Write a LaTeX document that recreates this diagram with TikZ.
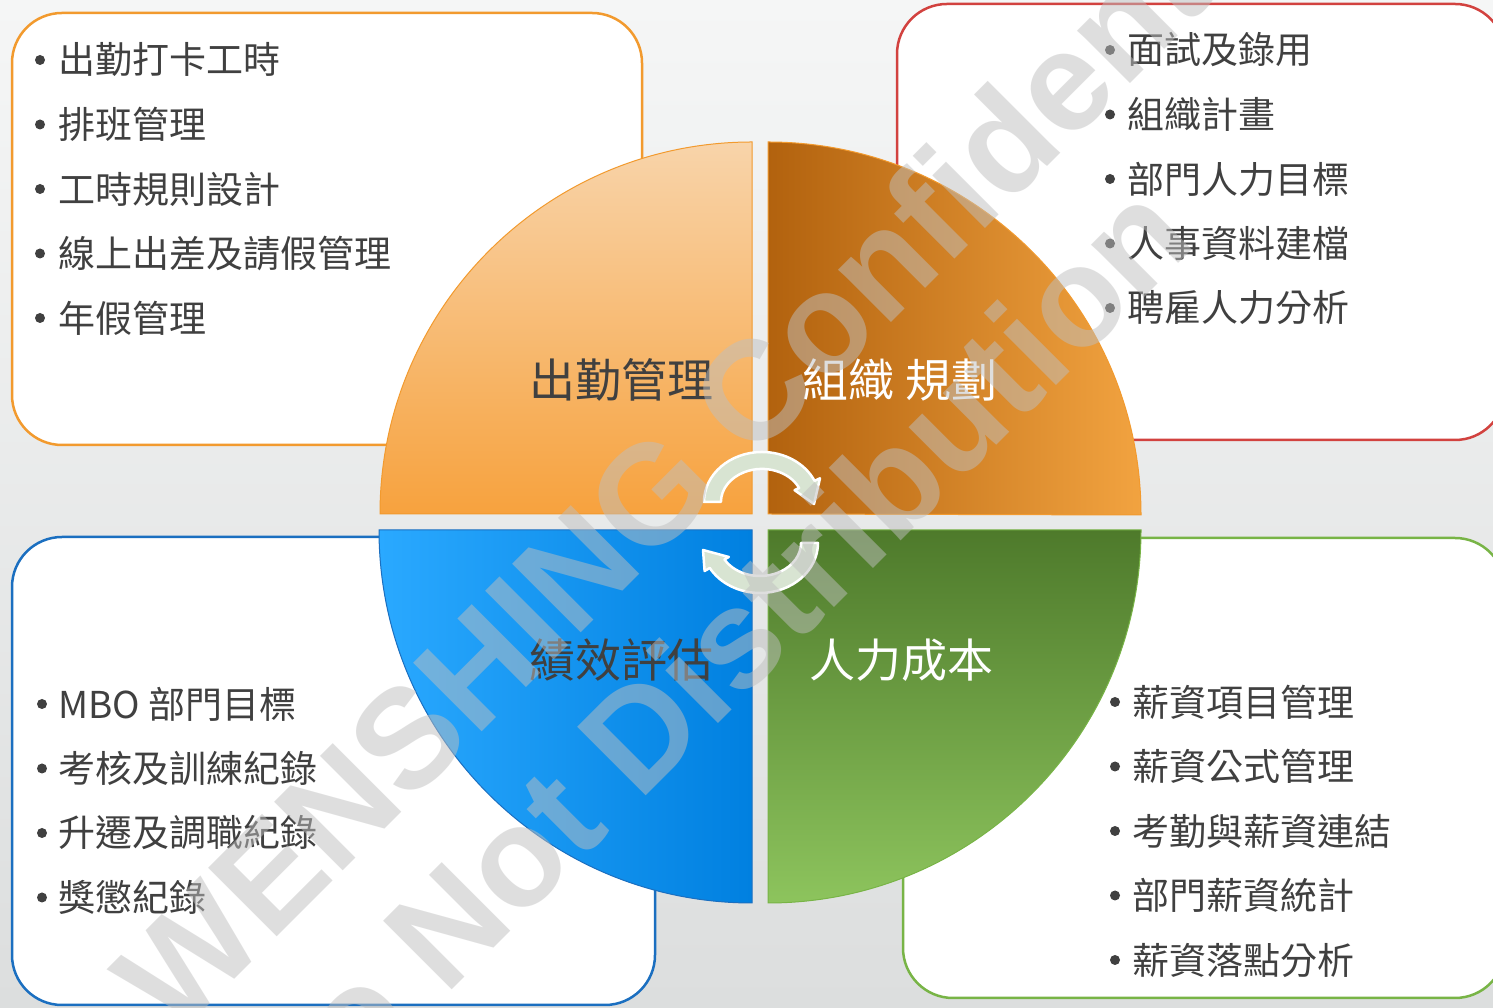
\documentclass[tikz,border=0pt]{standalone}
\usepackage{fontspec}
\setmainfont{Noto Sans CJK TC}
\newfontfamily\wmfont{Liberation Sans}
\definecolor{bgtop}{HTML}{F5F6F6}
\definecolor{bgbot}{HTML}{DCDEDE}
\definecolor{orangeline}{HTML}{F29A2E}
\definecolor{redline}{HTML}{D2423F}
\definecolor{blueline}{HTML}{1B6FC0}
\definecolor{greenline}{HTML}{78B446}
\definecolor{tlTop}{HTML}{F8D4AA}
\definecolor{tlBot}{HTML}{F7A23E}
\definecolor{trL}{HTML}{B2620E}
\definecolor{trR}{HTML}{F2A340}
\definecolor{blL}{HTML}{2AA9FF}
\definecolor{blR}{HTML}{0080E0}
\definecolor{brT}{HTML}{4E7A2B}
\definecolor{brB}{HTML}{8DC45D}
\definecolor{txt}{HTML}{404040}
\definecolor{arrowfill}{HTML}{D8E4D2}
\definecolor{wmgray}{HTML}{BFBFBF}
\begin{document}
\begin{tikzpicture}[x=1pt,y=1pt,
  item/.style={anchor=west, inner sep=0pt, text=txt, font=\fontsize{37}{40}\selectfont},
  qlabel/.style={inner sep=0pt, font=\fontsize{46}{50}\selectfont},
  box/.style={rounded corners=50pt, line width=2.5pt, fill=white},
  quad/.style={line width=1pt},
  cyc/.style={fill=arrowfill, draw=white, line width=2.5pt, line join=round},
  wm/.style={rotate=45, anchor=base, text=wmgray, text opacity=0.5, inner sep=0pt, font=\wmfont\bfseries\fontsize{141}{150}\selectfont}
]
\useasboundingbox (0,0) rectangle (1493,1008);
\shade[top color=bgtop, bottom color=bgbot] (0,0) rectangle (1493,1008);

% text boxes
\draw[box, draw=orangeline] (12,563) rectangle (642,995);
\draw[box, draw=redline] (897,568) rectangle (1505,1004);
\draw[box, draw=blueline] (12,3) rectangle (655,471);
\draw[box, draw=greenline] (903,10) rectangle (1505,470);

% quadrants
\shade[quad, top color=tlTop, bottom color=tlBot, draw=orangeline] (752,494) -- (380,494) arc[start angle=180, end angle=90, radius=372] -- cycle;
\shade[quad, left color=trL, right color=trR, draw=orangeline] (768,494) -- (768,866) arc[start angle=90, end angle=0, radius=373] -- cycle;
\shade[quad, left color=blL, right color=blR, draw=blueline] (752,478) -- (752,105) arc[start angle=270, end angle=180, radius=373] -- cycle;
\shade[quad, top color=brT, bottom color=brB, draw=greenline] (768,478) -- (1141,478) arc[start angle=0, end angle=-90, radius=373] -- cycle;

% quadrant labels
\node[qlabel, text=txt] (q1) at (621,628) {出勤管理};
\node[qlabel, text=white] (q2) at (900,628) {組織 規劃};
\node[qlabel, text=txt] (q3) at (621,348) {績效評估};
\node[qlabel, text=white] (q4) at (901,348) {人力成本};

% cycle arrows
\draw[cyc] (704,506) arc[start angle=180, end angle=25, x radius=58, y radius=50]
  -- (820,529.7) -- (814,504) -- (794.6,517.8) -- (799.1,520)
  arc[start angle=25, end angle=180, x radius=41, y radius=33] -- cycle;
\draw[cyc] (818,465) arc[start angle=0, end angle=-150, x radius=58, y radius=50]
  -- (704.6,437) -- (703,458) -- (728.8,451) -- (724.5,448.5)
  arc[start angle=-150, end angle=0, x radius=41, y radius=33] -- cycle;

% lists
\foreach \t [count=\i] in {出勤打卡工時,排班管理,工時規則設計,線上出差及請假管理,年假管理}{
  \node[item] (tl\i) at (58,1012.5-64.5*\i) {\t};
  \fill[txt] (40,1012.5-64.5*\i) circle (5);
}
\foreach \t [count=\i] in {面試及錄用,組織計畫,部門人力目標,人事資料建檔,聘雇人力分析}{
  \node[item] (tr\i) at (1127,1022.5-64.5*\i) {\t};
  \fill[txt] (1110,1022.5-64.5*\i) circle (5);
}
\foreach \t [count=\i] in {MBO 部門目標,考核及訓練紀錄,升遷及調職紀錄,獎懲紀錄}{
  \node[item] (bl\i) at (58,368.5-64.5*\i) {\t};
  \fill[txt] (42,368.5-64.5*\i) circle (5);
}
\foreach \t [count=\i] in {薪資項目管理,薪資公式管理,考勤與薪資連結,部門薪資統計,薪資落點分析}{
  \node[item] (br\i) at (1132,370.5-64.5*\i) {\t};
  \fill[txt] (1115,370.5-64.5*\i) circle (5);
}

% watermark
\node[wm] (wm1) at (752,546) {WENSHING Confidential};
\node[wm] (wm2) at (742,308) {Do Not Distribution};
\end{tikzpicture}
\end{document}
